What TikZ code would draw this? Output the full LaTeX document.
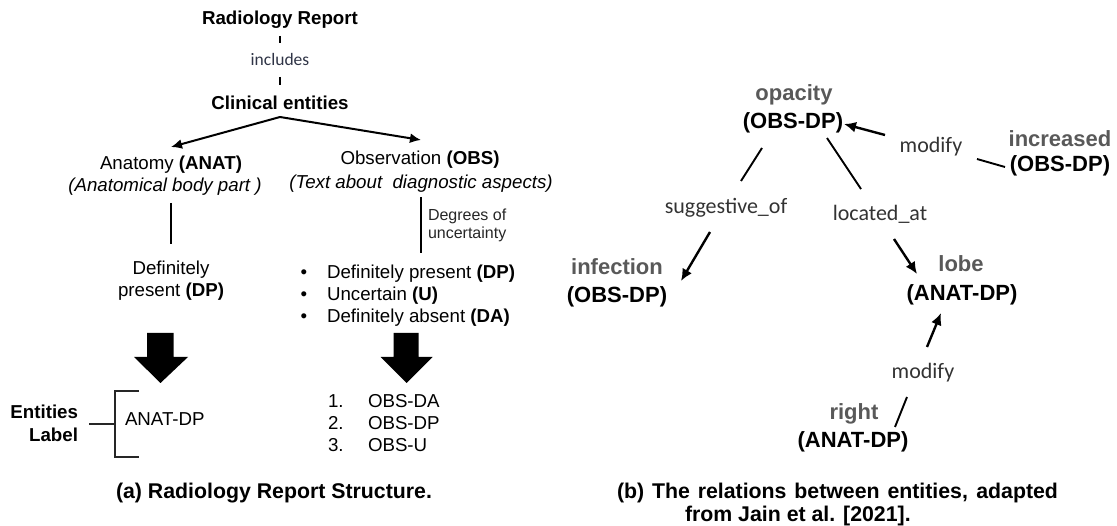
\documentclass[tikz,border=0pt]{standalone}
\usepackage{fontspec}
\setmainfont{Liberation Sans}
\newfontfamily\carl{Carlito}
\usetikzlibrary{arrows.meta}
\definecolor{wgray}{HTML}{595959}
\definecolor{lblc}{HTML}{2F3446}
\definecolor{relc}{HTML}{333333}
\begin{document}
\begin{tikzpicture}[x=1pt,y=-1pt,
  every node/.style={inner sep=0pt, outer sep=0pt},
  main/.style={font=\fontsize{18.7}{22.5}\selectfont},
  mainb/.style={font=\fontsize{18.7}{22.5}\selectfont\bfseries},
  maini/.style={font=\fontsize{18.7}{22.5}\selectfont\itshape},
  small/.style={font=\fontsize{16}{19}\selectfont, text=black!85},
  lbl/.style={font=\carl\fontsize{17.5}{21}\selectfont, text=lblc},
  rel/.style={font=\carl\fontsize{22}{26}\selectfont, text=relc},
  ent/.style={font=\fontsize{22}{26}\selectfont\bfseries},
  entw/.style={ent, text=wgray},
  captxt/.style={font=\fontsize{21.3}{25}\selectfont\bfseries},
  ln/.style={line width=1.9pt},
  arra/.style={line width=2pt, -{Latex[length=11pt,width=10pt]}},
  arrb/.style={line width=2.4pt, -{Latex[length=12pt,width=11pt]}},
]
\useasboundingbox (0,0) rectangle (1117,526);

% ---------- (a) ----------
\node[mainb, anchor=base] (rr) at (280,25) {Radiology Report};
\node[lbl, anchor=base] (inc) at (280,66) {includes};
\node[mainb, anchor=base] (ce) at (280,110) {Clinical entities};
\coordinate (d1a) at (280,36); \coordinate (d1b) at (280,43.5);
\coordinate (d2a) at (280,77); \coordinate (d2b) at (280,85);
\draw[ln] (d1a) -- (d1b);
\draw[ln] (d2a) -- (d2b);

\node[main, anchor=base] (anat) at (171,170) {Anatomy \textbf{(ANAT)}};
\node[maini, anchor=base] (anatd) at (165,192) {(Anatomical body part )};
\node[main, anchor=base] (obs) at (420,165) {Observation \textbf{(OBS)}};
\node[maini, anchor=base] (obsd) at (421,189) {(Text about \ diagnostic aspects)};

\coordinate (apex) at (280,117);
\coordinate (ltip) at (171,147);
\coordinate (rtip) at (421,140);
\draw[arra] (apex) -- (ltip);
\draw[arra] (apex) -- (rtip);

\coordinate (la) at (171,203); \coordinate (lb) at (171,244);
\draw[ln] (la) -- (lb);
\coordinate (ra) at (421,197); \coordinate (rb) at (421,253);
\draw[ln] (ra) -- (rb);
\node[small, anchor=base west] (deg1) at (428,221) {Degrees of};
\node[small, anchor=base west] (deg2) at (428,239) {uncertainty};

\node[main, anchor=base] (def1) at (171,275) {Definitely};
\node[main, anchor=base] (def2) at (171,297) {present \textbf{(DP)}};

\node[main, anchor=base] (b1) at (304,279) {\textbullet};
\node[main, anchor=base] (b2) at (304,301) {\textbullet};
\node[main, anchor=base] (b3) at (304,323) {\textbullet};
\node[main, anchor=base west] (u1) at (327,279) {Definitely present \textbf{(DP)}};
\node[main, anchor=base west] (u2) at (327,301) {Uncertain \textbf{(U)}};
\node[main, anchor=base west] (u3) at (327,323) {Definitely absent \textbf{(DA)}};

% block arrows
\fill (147,333) -- (173.5,333) -- (173.5,357) -- (188,357) -- (160.5,383) -- (134,357) -- (147,357) -- cycle;
\fill (393.5,333) -- (418.5,333) -- (418.5,357) -- (432.5,357) -- (406.5,383) -- (380.5,357) -- (393.5,357) -- cycle;

% entities label bracket
\node[mainb, anchor=base east] (ent1) at (78,419) {Entities};
\node[mainb, anchor=base east] (ent2) at (78,442) {Label};
\coordinate (bt) at (139,391); \coordinate (bt2) at (115,391);
\coordinate (bb) at (139,457); \coordinate (bb2) at (115,457);
\coordinate (bm) at (115,424); \coordinate (bl) at (89,424);
\draw[ln, black!85] (bt) -- (bt2) -- (bb2) -- (bb);
\draw[ln, black!85] (bl) -- (bm);
\node[main, anchor=base west] (adp) at (125,426) {ANAT-DP};

\node[main, anchor=base west] (n1) at (328,408) {1.};
\node[main, anchor=base west] (n2) at (328,430) {2.};
\node[main, anchor=base west] (n3) at (328,452) {3.};
\node[main, anchor=base west] (o1) at (368,408) {OBS-DA};
\node[main, anchor=base west] (o2) at (368,430) {OBS-DP};
\node[main, anchor=base west] (o3) at (368,452) {OBS-U};

\node[captxt, anchor=base] (capa) at (274,498) {(a) Radiology Report Structure.};

% ---------- (b) ----------
\node[entw, anchor=base] (opw) at (794,101) {opacity};
\node[ent, anchor=base] (op) at (793,129) {(OBS-DP)};
\node[entw, anchor=base] (incw) at (1060,147) {increased};
\node[ent, anchor=base] (incr) at (1060,172) {(OBS-DP)};
\node[entw, anchor=base] (infw) at (617,275) {infection};
\node[ent, anchor=base] (inf) at (617,303) {(OBS-DP)};
\node[entw, anchor=base] (lobew) at (961,272) {lobe};
\node[ent, anchor=base] (lobe) at (962,301) {(ANAT-DP)};
\node[entw, anchor=base] (rightw) at (854,420) {right};
\node[ent, anchor=base] (right) at (853,448) {(ANAT-DP)};

\node[rel, anchor=base] (mod1) at (931,153) {modify};
\node[rel, anchor=base] (sug) at (726,214) {suggestive\_of};
\node[rel, anchor=base] (loc) at (880,221) {located\_at};
\node[rel, anchor=base] (mod2) at (923,379) {modify};

\coordinate (m1a) at (885,135); \coordinate (m1b) at (844,124);
\draw[arrb] (m1a) -- (m1b);
\coordinate (i1a) at (977,159); \coordinate (i1b) at (1005,167);
\draw[ln] (i1a) -- (i1b);
\coordinate (s1a) at (762,148); \coordinate (s1b) at (741,181);
\draw[ln] (s1a) -- (s1b);
\coordinate (s2a) at (710,232); \coordinate (s2b) at (681,281);
\draw[arrb] (s2a) -- (s2b);
\coordinate (l1a) at (827,138); \coordinate (l1b) at (861,189);
\draw[ln] (l1a) -- (l1b);
\coordinate (l2a) at (894,239); \coordinate (l2b) at (917,274);
\draw[arrb] (l2a) -- (l2b);
\coordinate (r1a) at (907,397); \coordinate (r1b) at (895,427);
\draw[ln] (r1a) -- (r1b);
\coordinate (r2a) at (927,347); \coordinate (r2b) at (941,313);
\draw[arrb] (r2a) -- (r2b);

\node[captxt, anchor=base west] (capb1) at (617,498) {\makebox[441pt][s]{(b) The relations between entities, adapted}};
\node[captxt, anchor=base west] (capb2) at (685,521) {from Jain et al. [2021].};
\end{tikzpicture}
\end{document}
